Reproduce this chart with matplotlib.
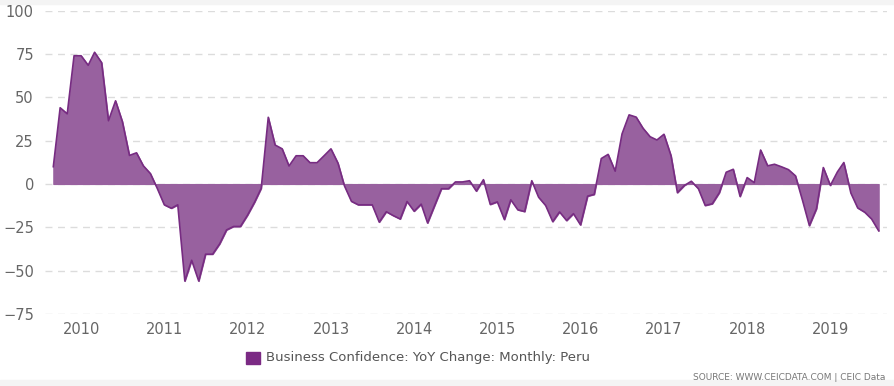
import matplotlib
matplotlib.use("Agg")
import matplotlib.pyplot as plt
import matplotlib.dates as mdates
import matplotlib.patches as mpatches
import numpy as np
import pandas as pd

# monthly YoY change, Sep 2009 .. Aug 2019
start = "2009-09-01"
values = [
    10, 44, 40.5, 74, 74, 68.5, 76, 70, 36.5, 48, 36, 16.5,
    18, 10.5, 6, -2.5, -12, -14, -12, -56, -44, -56, -40.5, -40.5,
    -34.5, -26.5, -24.5, -24.5, -18, -10.5, -2.5, 38.5, 22.5, 20.3, 10.4, 16.3,
    16.3, 12.3, 12.3, 16.2, 20.3, 12, -1, -10, -12, -12, -12, -22,
    -16, -18.2, -20.2, -10.1, -15.7, -11.6, -22.5, -12.4, -2.7, -2.7, 1.2, 1.2,
    1.9, -4.1, 2.5, -11.8, -10.3, -20.5, -9.1, -14.9, -15.9, 1.9, -7.6, -12.4,
    -21.7, -16.1, -21.1, -17.1, -23.6, -7, -6, 14.7, 17.1, 7.4, 28.9, 39.9,
    38.6, 32.2, 27.3, 25.4, 28.7, 16.3, -5, -0.8, 1.6, -2.7, -12.4, -11.4,
    -5, 6.8, 8.5, -7.2, 3.7, 0.8, 19.6, 10.5, 11.4, 9.9, 8.3, 4.7,
    -9.5, -24, -14.3, 9.5, -0.8, 7, 12.4, -5.2, -13.8, -16.3, -20.2, -27,
]
dates = pd.date_range(start, periods=len(values), freq="MS")
y_ticks = [-75, -50, -25, 0, 25, 50, 75, 100]
series_name = "Business Confidence: YoY Change: Monthly: Peru"
source_text = "SOURCE: WWW.CEICDATA.COM | CEIC Data"

FILL = "#98619f"
LINE = "#772c82"
GRID = "#dcdcdc"
TEXT = "#666666"

fig = plt.figure(figsize=(8.95, 3.86), dpi=100)
ax = fig.add_axes([45 / 895, 72 / 386, 842 / 895, 303.3 / 386])

ax.fill_between(dates, values, 0, facecolor=FILL, edgecolor=FILL, linewidth=0.8)
ax.plot(dates, values, color=LINE, linewidth=1.2)

ax.set_ylim(-75, 100)
ax.set_yticks(y_ticks)
step = pd.Timedelta(days=30.4)
ax.set_xlim(dates[0] - 1.2 * step, dates[-1] + 1.2 * step)
ax.xaxis.set_major_locator(mdates.YearLocator())
ax.xaxis.set_major_formatter(mdates.DateFormatter("%Y"))

ax.grid(axis="y", color=GRID, linestyle=(0, (5, 4)), linewidth=1)
ax.set_axisbelow(True)
for s in ax.spines.values():
    s.set_visible(False)
ax.tick_params(axis="both", length=0, labelsize=10.5, labelcolor=TEXT)
ax.tick_params(axis="y", pad=8)
ax.tick_params(axis="x", pad=6)

# legend
fig.patches.append(mpatches.Rectangle((246 / 895, 1 - 364 / 386), 14 / 895, 12 / 386,
                                      transform=fig.transFigure, color="#7b2a84"))
fig.text(266 / 895, 1 - 358 / 386, series_name, fontsize=9.5, color="#555555",
         va="center", ha="left")
fig.text(885 / 895, 1 - 377 / 386, source_text, fontsize=6.5, color="#777777",
         va="center", ha="right")

# light bands at top and bottom
fig.patches.append(mpatches.Rectangle((0, 1 - 4 / 386), 1, 4 / 386,
                                      transform=fig.transFigure, color="#f4f4f4", zorder=-1))
fig.patches.append(mpatches.Rectangle((0, 0), 1, 6 / 386,
                                      transform=fig.transFigure, color="#f4f4f4", zorder=-1))

fig.savefig("out.png", dpi=100)
